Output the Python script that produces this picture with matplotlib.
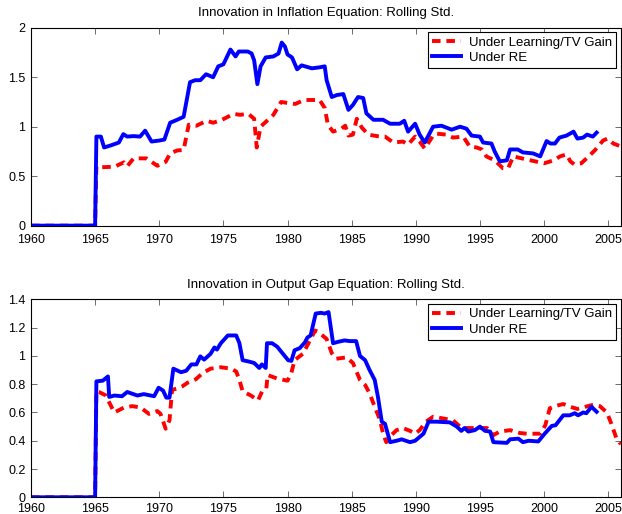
import numpy as np
import matplotlib
matplotlib.use('Agg')
import matplotlib.pyplot as plt
from matplotlib.ticker import FuncFormatter

plt.rcParams['font.family'] = ['Liberation Sans', 'DejaVu Sans']

# (year, value)
infl_learn = [(1960, 0), (1965.0, 0), (1965.1, 0.6), (1965.35, 0.59), (1966.5, 0.595), (1967.25, 0.64),
              (1967.5, 0.60), (1968.0, 0.68), (1968.5, 0.68), (1969.0, 0.68), (1969.85, 0.605), (1970.5, 0.645),
              (1970.85, 0.73), (1971.4, 0.76), (1971.9, 0.765), (1972.3, 1.02), (1972.9, 1.01), (1973.7, 1.06),
              (1974.2, 1.04), (1974.9, 1.07), (1975.8, 1.13), (1976.3, 1.12), (1976.95, 1.13), (1977.4, 1.08),
              (1977.6, 0.79), (1977.9, 1.0), (1978.4, 1.06), (1978.9, 1.12), (1979.5, 1.25), (1980.0, 1.24),
              (1980.6, 1.23), (1981.3, 1.27), (1982.5, 1.27), (1982.9, 1.19), (1983.15, 1.02), (1983.55, 0.95),
              (1984.2, 0.98), (1984.5, 1.01), (1984.75, 0.91), (1985.1, 0.92), (1985.4, 1.08), (1985.8, 0.99),
              (1986.3, 0.92), (1987.2, 0.90), (1987.6, 0.90), (1988.25, 0.84), (1989.0, 0.85), (1989.4, 0.82),
              (1989.95, 0.90), (1990.3, 0.85), (1990.7, 0.78), (1991.3, 0.90), (1991.6, 0.93), (1992.4, 0.92),
              (1992.9, 0.89), (1993.7, 0.90), (1994.2, 0.80), (1994.75, 0.79), (1995.15, 0.77), (1995.5, 0.70),
              (1996.15, 0.66), (1996.8, 0.58), (1997.2, 0.58), (1997.6, 0.70), (1998.6, 0.67), (1999.65, 0.64),
              (2000.0, 0.63), (2000.75, 0.66), (2001.25, 0.70), (2001.75, 0.72), (2002.05, 0.65), (2002.35, 0.62),
              (2002.9, 0.63), (2003.4, 0.69), (2003.95, 0.76), (2004.6, 0.86), (2004.95, 0.88), (2005.4, 0.83),
              (2006.0, 0.80)]

infl_re = [(1960, 0), (1965.0, 0), (1965.1, 0.9), (1965.45, 0.9), (1965.7, 0.79), (1966.2, 0.81), (1966.85, 0.84),
           (1967.2, 0.925), (1967.5, 0.9), (1968.0, 0.905), (1968.5, 0.9), (1968.9, 0.96), (1969.4, 0.85),
           (1970.0, 0.86), (1970.4, 0.87), (1970.85, 1.04), (1971.4, 1.07), (1971.9, 1.10), (1972.4, 1.45),
           (1972.8, 1.47), (1973.2, 1.47), (1973.65, 1.53), (1974.2, 1.50), (1974.6, 1.61), (1975.0, 1.63),
           (1975.55, 1.78), (1975.95, 1.71), (1976.2, 1.76), (1976.9, 1.76), (1977.2, 1.74), (1977.4, 1.67),
           (1977.65, 1.43), (1977.9, 1.61), (1978.3, 1.70), (1978.9, 1.71), (1979.3, 1.74), (1979.55, 1.85),
           (1979.8, 1.81), (1980.0, 1.73), (1980.35, 1.70), (1980.75, 1.58), (1981.1, 1.62), (1981.9, 1.59),
           (1982.5, 1.60), (1982.9, 1.61), (1983.05, 1.47), (1983.45, 1.30), (1983.85, 1.32), (1984.35, 1.33),
           (1984.75, 1.17), (1985.1, 1.22), (1985.5, 1.30), (1985.9, 1.29), (1986.15, 1.135), (1986.7, 1.07),
           (1987.45, 1.07), (1988.0, 1.03), (1988.75, 1.03), (1989.1, 1.06), (1989.4, 0.95), (1989.95, 1.03),
           (1990.3, 0.92), (1990.7, 0.84), (1991.35, 1.0), (1992.0, 1.01), (1992.8, 0.97), (1993.45, 1.0),
           (1993.95, 0.98), (1994.35, 0.91), (1995.0, 0.90), (1995.25, 0.84), (1995.9, 0.83), (1996.15, 0.75),
           (1996.55, 0.65), (1997.1, 0.66), (1997.35, 0.77), (1997.95, 0.77), (1998.35, 0.74), (1999.15, 0.73),
           (1999.7, 0.70), (2000.2, 0.855), (2000.5, 0.83), (2000.85, 0.83), (2001.2, 0.89), (2001.75, 0.91),
           (2002.3, 0.95), (2002.6, 0.88), (2003.05, 0.89), (2003.35, 0.92), (2003.8, 0.90), (2004.1, 0.94)]

gap_learn = [(1960, 0), (1965.0, 0), (1965.1, 0.75), (1965.3, 0.745), (1965.85, 0.72), (1966.05, 0.68),
             (1966.5, 0.60), (1967.25, 0.635), (1967.9, 0.645), (1968.55, 0.635), (1969.2, 0.59), (1969.85, 0.61),
             (1970.1, 0.59), (1970.5, 0.485), (1970.8, 0.545), (1971.0, 0.76), (1971.4, 0.77), (1971.8, 0.785),
             (1972.2, 0.81), (1972.85, 0.835), (1973.4, 0.88), (1974.0, 0.91), (1974.8, 0.92), (1975.6, 0.91),
             (1976.0, 0.89), (1976.25, 0.83), (1976.5, 0.75), (1977.15, 0.72), (1977.7, 0.685), (1978.05, 0.755),
             (1978.35, 0.77), (1978.45, 0.865), (1979.2, 0.84), (1980.0, 0.825), (1980.3, 0.88), (1980.55, 0.97),
             (1981.2, 1.015), (1981.75, 1.11), (1982.15, 1.18), (1982.4, 1.17), (1983.05, 1.12), (1983.45, 1.02),
             (1983.8, 0.98), (1984.6, 0.99), (1985.1, 0.95), (1985.65, 0.83), (1986.05, 0.795), (1986.4, 0.735),
             (1986.8, 0.64), (1987.2, 0.55), (1987.45, 0.45), (1987.7, 0.39), (1988.1, 0.44), (1988.5, 0.475),
             (1989.0, 0.49), (1989.55, 0.47), (1989.95, 0.45), (1990.3, 0.475), (1990.8, 0.535), (1991.35, 0.57),
             (1992.0, 0.56), (1992.9, 0.545), (1993.45, 0.50), (1993.95, 0.49), (1995.0, 0.49), (1995.55, 0.49),
             (1996.05, 0.44), (1996.55, 0.465), (1997.35, 0.475), (1998.1, 0.455), (1998.65, 0.45), (1999.7, 0.45),
             (2000.1, 0.51), (2000.45, 0.63), (2000.85, 0.645), (2001.5, 0.66), (2002.05, 0.64), (2002.6, 0.625),
             (2003.2, 0.64), (2003.85, 0.655), (2004.35, 0.645), (2004.9, 0.60), (2005.25, 0.52), (2005.65, 0.415),
             (2005.9, 0.385), (2006.0, 0.38)]

gap_re = [(1960, 0), (1965.0, 0), (1965.1, 0.82), (1965.6, 0.825), (1966.0, 0.855), (1966.1, 0.71), (1966.5, 0.72),
          (1967.1, 0.715), (1967.5, 0.745), (1968.3, 0.72), (1968.8, 0.73), (1969.6, 0.715), (1969.95, 0.775),
          (1970.3, 0.755), (1970.55, 0.705), (1970.8, 0.705), (1971.1, 0.91), (1971.7, 0.885), (1972.1, 0.895),
          (1972.5, 0.94), (1972.9, 0.94), (1973.2, 0.997), (1973.5, 0.974), (1974.0, 1.015), (1974.3, 1.06),
          (1974.5, 1.045), (1974.8, 1.09), (1975.35, 1.145), (1976.0, 1.145), (1976.25, 1.09), (1976.5, 0.97),
          (1977.0, 0.96), (1977.4, 0.95), (1977.8, 0.915), (1978.0, 0.94), (1978.3, 0.915), (1978.4, 1.09),
          (1978.8, 1.09), (1979.2, 1.065), (1979.6, 1.02), (1980.05, 0.97), (1980.3, 0.965), (1980.55, 1.04),
          (1980.95, 1.055), (1981.35, 1.095), (1981.55, 1.13), (1981.8, 1.145), (1982.2, 1.30), (1982.6, 1.305),
          (1982.9, 1.30), (1983.2, 1.31), (1983.55, 1.09), (1983.95, 1.10), (1984.45, 1.11), (1984.85, 1.105),
          (1985.35, 1.105), (1985.65, 1.0), (1986.05, 0.97), (1986.4, 0.90), (1986.8, 0.83), (1987.05, 0.71),
          (1987.35, 0.535), (1987.6, 0.52), (1988.0, 0.39), (1988.5, 0.40), (1988.9, 0.41), (1989.55, 0.39),
          (1989.95, 0.40), (1990.6, 0.45), (1991.0, 0.535), (1991.6, 0.535), (1992.65, 0.53), (1993.2, 0.50),
          (1993.55, 0.47), (1993.8, 0.49), (1994.1, 0.465), (1994.6, 0.475), (1995.0, 0.50), (1995.4, 0.47),
          (1995.8, 0.465), (1996.05, 0.39), (1997.1, 0.385), (1997.35, 0.41), (1998.0, 0.415), (1998.35, 0.39),
          (1998.8, 0.40), (1999.55, 0.395), (2000.05, 0.45), (2000.6, 0.505), (2000.9, 0.51), (2001.5, 0.58),
          (2002.0, 0.58), (2002.4, 0.595), (2002.65, 0.58), (2003.05, 0.60), (2003.3, 0.595), (2003.7, 0.64),
          (2004.1, 0.605)]

titles = ['Innovation in Inflation Equation: Rolling Std.', 'Innovation in Output Gap Equation: Rolling Std.']
labels = ['Under Learning/TV Gain', 'Under RE']
xticks = np.arange(1960, 2006, 5)
yticks_top = [0, 0.5, 1, 1.5, 2]
yticks_bot = [0, 0.2, 0.4, 0.6, 0.8, 1, 1.2, 1.4]

fig = plt.figure(figsize=(6.22, 5.14), dpi=100)
ax1 = fig.add_axes([0.0498, 0.561, 0.9486, 0.385])
ax2 = fig.add_axes([0.0498, 0.0325, 0.9486, 0.385])

# bottom panel sits right at the figure edge, so its x labels get less pad
panels = [(ax1, infl_learn, infl_re, yticks_top, titles[0], 6),
          (ax2, gap_learn, gap_re, yticks_bot, titles[1], 4)]

for ax, learn, re_, yt, ttl, xpad in panels:
    lx, ly = np.array(learn).T
    rx, ry = np.array(re_).T
    ax.plot(lx, ly, color='red', lw=2.8, dashes=(2.2, 1.5), label=labels[0])
    ax.plot(rx, ry, color='blue', lw=2.8, label=labels[1])
    ax.set_xlim(1960, 2006)
    ax.set_ylim(yt[0], yt[-1])
    ax.set_xticks(xticks)
    ax.set_yticks(yt)
    ax.yaxis.set_major_formatter(FuncFormatter(lambda v, p: '%g' % v))
    ax.tick_params(direction='in', top=True, right=True, length=4, width=0.6,
                   labelsize=9, color='#555555')
    ax.tick_params(axis='x', pad=xpad)
    ax.tick_params(axis='y', pad=4)
    for s in ax.spines.values():
        s.set_linewidth(0.8)
    ax.set_title(ttl, fontsize=9.5, pad=8.5)
    leg = ax.legend(loc='upper right', fontsize=9.5, fancybox=False, framealpha=1,
                    edgecolor='black', borderaxespad=0.35, handlelength=2.2,
                    handletextpad=0.6, borderpad=0.3, labelspacing=0.25)
    leg.get_frame().set_linewidth(0.8)

fig.savefig('out.png', dpi=100)
